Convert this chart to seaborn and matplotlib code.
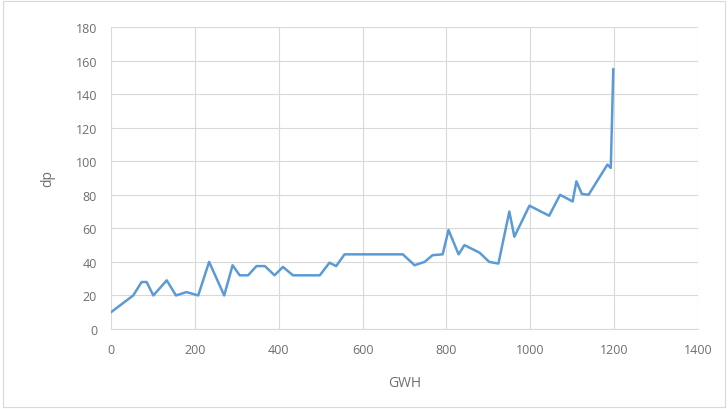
import pandas as pd
import seaborn as sns
import matplotlib.pyplot as plt

# values
gwh = [0, 53, 73, 85, 101, 133, 155, 180, 208, 234, 270, 290, 307, 327, 347, 367,
       390, 410, 434, 450, 498, 521, 537, 557, 696, 724, 748, 767, 791, 805, 829,
       843, 879, 902, 924, 950, 962, 998, 1045, 1071, 1101, 1110, 1123, 1139,
       1184, 1192, 1198]
dp = [10, 20, 28, 28, 20, 29, 20, 22, 20, 40, 20, 38, 32, 32, 37.5, 37.5,
      32, 37, 32, 32, 32, 39.5, 37.5, 44.5, 44.5, 38, 40, 44, 44.5, 59, 44.5,
      50, 45.5, 40, 39, 70, 55, 73.5, 67.5, 80, 76, 88, 80.5, 80,
      98, 96, 155]

df = pd.DataFrame({'GWH': gwh, 'dp': dp})

sns.set_style('white')
plt.rcParams['font.family'] = ['Open Sans', 'DejaVu Sans']

fig = plt.figure(figsize=(7.28, 4.10), dpi=100)
ax = fig.add_axes([111/728, 1 - 330/410, (698-111)/728, (330-28)/410])

sns.lineplot(data=df, x='GWH', y='dp', ax=ax, sort=False, estimator=None,
             color='#5B9BD5', linewidth=1.8)

ax.set_xlim(0, 1400)
ax.set_ylim(0, 180)
ax.set_xticks(range(0, 1401, 200))
ax.set_yticks(range(0, 181, 20))
ax.grid(True, color='#D9D9D9', linewidth=0.8)
for s in ax.spines.values():
    s.set_visible(False)
ax.spines['bottom'].set_visible(True)
ax.spines['bottom'].set_color('#D9D9D9')
ax.tick_params(axis='both', length=0, labelsize=9, colors='#6E6E6E', pad=10)
ax.set_xlabel('GWH', fontsize=10, color='#6E6E6E', labelpad=14)
ax.set_ylabel('dp', fontsize=10, color='#6E6E6E', labelpad=15)

# chart area border
fig.patches.append(plt.Rectangle((0.004, 0.004), 0.992, 0.992, transform=fig.transFigure,
                                 fill=False, edgecolor='#D9D9D9', linewidth=0.8))

fig.savefig('out.png', dpi=100)
